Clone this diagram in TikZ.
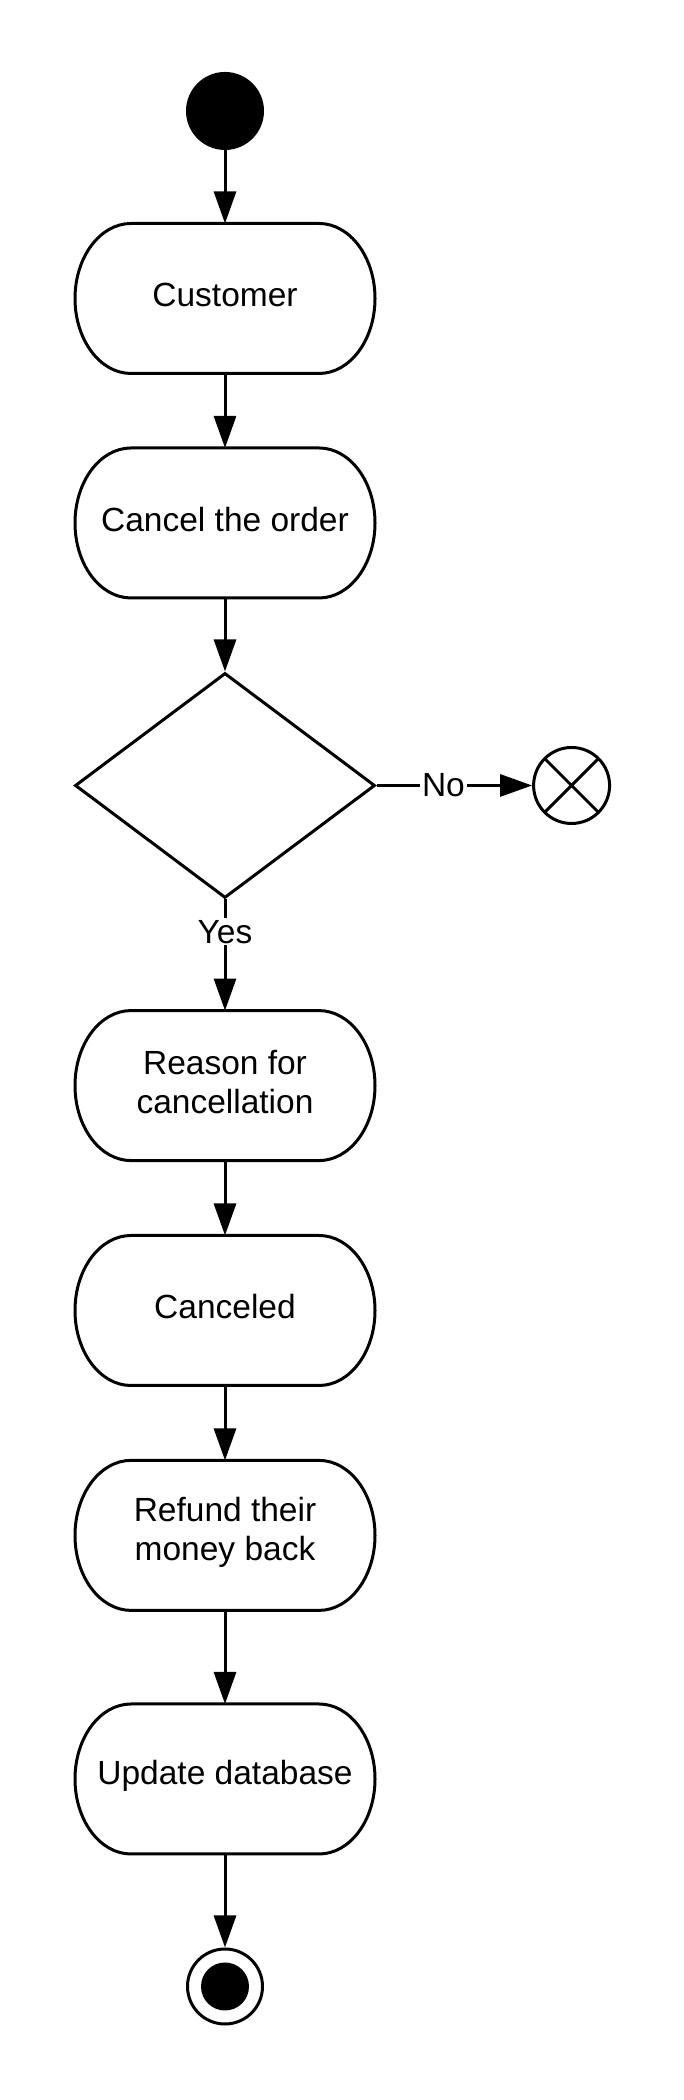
\documentclass[tikz,border=0pt]{standalone}
\usepackage{fontspec}
\setmainfont{Liberation Sans}
\usetikzlibrary{arrows.meta,shapes.geometric,calc}
\newcommand\capsuleoutline[1]{%
  \draw[boxline] ([xshift=56pt]#1.north west) -- ([xshift=-56pt]#1.north east)
    arc[start angle=90,end angle=-90,x radius=56pt,y radius=75pt]
    -- ([xshift=56pt]#1.south west)
    arc[start angle=270,end angle=90,x radius=56pt,y radius=75pt] -- cycle;}
\tikzset{
  boxline/.style={line width=3pt, line join=round},
  act/.style={rectangle, minimum width=300pt, minimum height=150pt, inner sep=0pt, outer sep=0pt},
  acttext/.style={align=center, inner sep=0pt, font=\fontsize{33.5}{39}\selectfont},
  flow/.style={line width=3pt, -{Triangle[length=32pt,width=22pt]}},
  lbl/.style={fill=white, inner sep=2pt, font=\fontsize{33.5}{39}\selectfont},
}
\begin{document}
\begin{tikzpicture}[x=1pt,y=1pt]
\useasboundingbox (0,0) rectangle (684,2100);
\node[circle, fill=black, minimum size=78pt, inner sep=0pt] (start) at (225,1989) {};
\node[act] (b1) at (225,1801.5) {};
\node[act] (b2) at (225,1577) {};
\node[diamond, draw, line width=3pt, minimum width=300pt, minimum height=225pt, inner sep=0pt, aspect=1.333] (d) at (225,1314.5) {};
\node[circle, draw, line width=3pt, minimum size=76pt, inner sep=0pt] (x) at (571.6,1314.5) {};
\node[act] (b3) at (225,1014.4) {};
\node[act] (b4) at (225,789.5) {};
\node[act] (b5) at (225,564.6) {};
\node[act] (b6) at (225,321) {};
\node[circle, draw, line width=3pt, minimum size=75pt, inner sep=0pt] (end) at (225,113.5) {};
\node[circle, fill=black, minimum size=48pt, inner sep=0pt] (endin) at (end.center) {};
\capsuleoutline{b1}
\capsuleoutline{b2}
\capsuleoutline{b3}
\capsuleoutline{b4}
\capsuleoutline{b5}
\capsuleoutline{b6}
\node[acttext] (t1) at ([yshift=3.5pt]b1.center) {Customer};
\node[acttext] (t2) at ([yshift=3.5pt]b2.center) {Cancel the order};
\node[acttext] (t3) at ([yshift=3.5pt]b3.center) {Reason for\\cancellation};
\node[acttext] (t4) at ([yshift=3.5pt]b4.center) {Canceled};
\node[acttext] (t5) at ([yshift=3.5pt]b5.center) {Refund their\\money back};
\node[acttext] (t6) at ([yshift=3.5pt]b6.center) {Update database};
\draw[line width=3pt] ($(x.center)+(45:37.5)$) -- ($(x.center)+(225:37.5)$);
\draw[line width=3pt] ($(x.center)+(135:37.5)$) -- ($(x.center)+(315:37.5)$);
\draw[flow] (start) -- (b1.north);
\draw[flow] (b1.south) -- (b2.north);
\draw[flow] (b2.south) -- (d.north);
\draw[flow] (d.east) -- node[lbl, pos=0.43] {No} (x.west);
\draw[flow] (d.south) -- node[lbl, pos=0.29] {Yes} (b3.north);
\draw[flow] (b3.south) -- (b4.north);
\draw[flow] (b4.south) -- (b5.north);
\draw[flow] (b5.south) -- (b6.north);
\draw[flow] (b6.south) -- (end.north);
\end{tikzpicture}
\end{document}
